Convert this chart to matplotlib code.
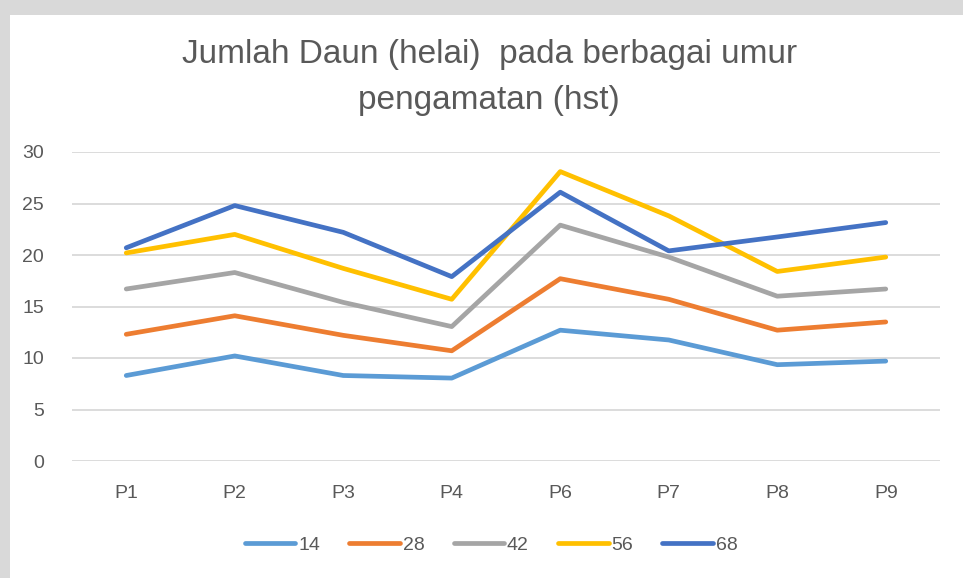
import matplotlib.pyplot as plt
from matplotlib.patches import Rectangle

# leaf count per treatment at each observation age (days after planting)
perlakuan = ["P1", "P2", "P3", "P4", "P6", "P7", "P8", "P9"]
umur = ["14", "28", "42", "56", "68"]
hst14 = [8.3, 10.2, 8.3, 8.05, 12.7, 11.75, 9.35, 9.7]
hst28 = [12.3, 14.1, 12.2, 10.7, 17.7, 15.7, 12.7, 13.5]
hst42 = [16.7, 18.3, 15.4, 13.05, 22.9, 19.8, 16.0, 16.7]
hst56 = [20.2, 22.0, 18.7, 15.7, 28.1, 23.8, 18.4, 19.8]
hst68 = [20.7, 24.8, 22.2, 17.9, 26.1, 20.4, 21.75, 23.15]

warna = ["#5B9BD5", "#ED7D31", "#A5A5A5", "#FFC000", "#4472C4"]


def main():
    plt.rcParams["font.family"] = ["Liberation Sans", "DejaVu Sans"]

    fig = plt.figure(figsize=(9.63, 5.78), dpi=100)
    fig.patch.set_facecolor("#D9D9D9")
    # white chart area inside the grey scan border
    fig.patches.append(Rectangle((10 / 963, 0), 1, 1 - 15 / 578, transform=fig.transFigure,
                                 facecolor="white", edgecolor="none", zorder=-5))

    ax = fig.add_axes([72 / 963, 117 / 578, 868 / 963, 309 / 578])
    ax.set_zorder(2)
    ax.set_facecolor("none")

    x = range(len(perlakuan))
    for nama, nilai, c in zip(umur, [hst14, hst28, hst42, hst56, hst68], warna):
        ax.plot(x, nilai, color=c, lw=3.4, label=nama, solid_capstyle="round",
                solid_joinstyle="round")

    ax.set_xlim(-0.5, len(perlakuan) - 0.5)
    ax.set_ylim(0, 30)
    ax.set_yticks(range(0, 31, 5))
    ax.set_xticks(list(x), perlakuan)
    ax.grid(axis="y", color="#D9D9D9", lw=1.3)
    ax.set_axisbelow(True)
    for s in ax.spines.values():
        s.set_visible(False)
    ax.tick_params(length=0, colors="#595959", labelsize=14)
    ax.tick_params(axis="y", pad=20)
    ax.tick_params(axis="x", pad=17)

    fig.text(0.508, 1 - 55 / 578, "Jumlah Daun (helai)  pada berbagai umur", ha="center",
             va="center", fontsize=24, color="#595959", zorder=3)
    fig.text(0.508, 1 - 100 / 578, "pengamatan (hst)", ha="center", va="center",
             fontsize=24, color="#595959", zorder=3)

    ax.legend(loc="center", bbox_to_anchor=(0.51, 1 - 545 / 578), bbox_transform=fig.transFigure,
              ncols=5, frameon=False, fontsize=14, handlelength=2.6, handletextpad=0.15,
              columnspacing=1.5, labelcolor="#595959")

    fig.savefig("out.png", dpi=100)


if __name__ == "__main__":
    main()
